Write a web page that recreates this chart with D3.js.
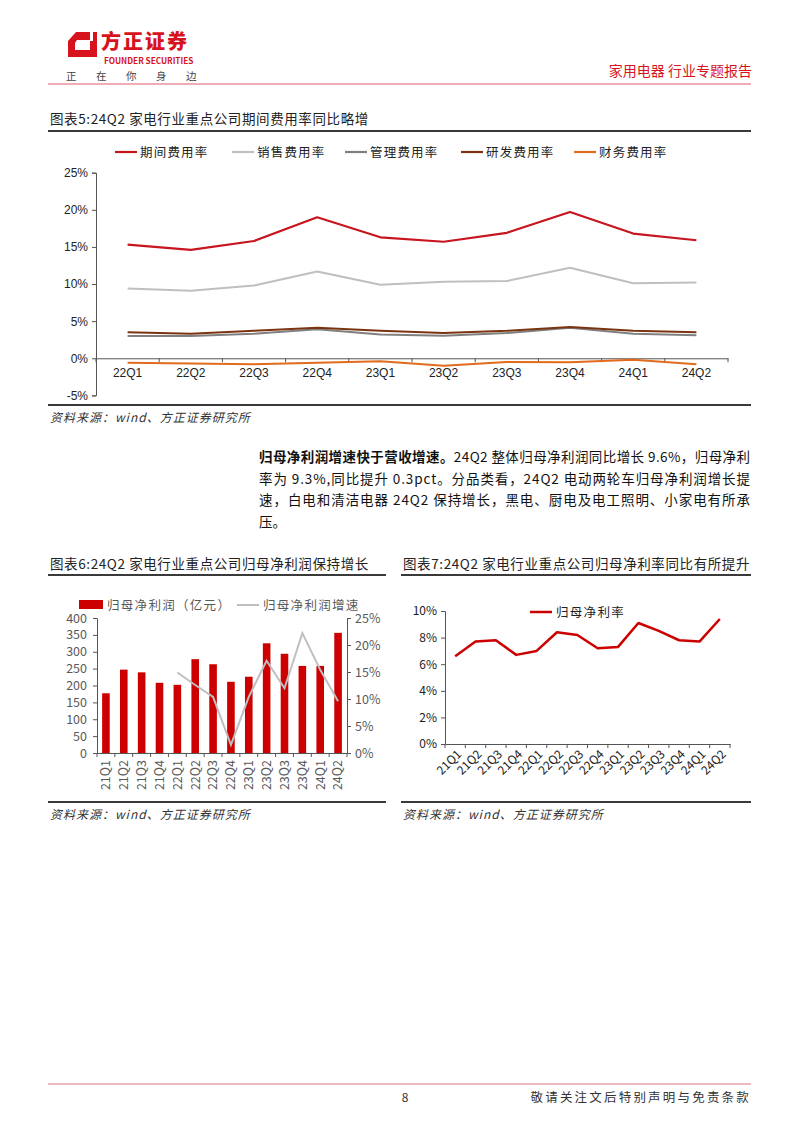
<!DOCTYPE html>
<html>
<head>
<meta charset="utf-8">
<script src="https://cdn.jsdelivr.net/npm/d3@7"></script>
<style>
body { margin: 0; background: #fff; }
svg { display: block; }
text { font-family: "Noto Sans CJK SC", "Noto Sans", sans-serif; }
.num { font-family: "Liberation Sans Narrow", "Liberation Sans", Arial, sans-serif; }
</style>
</head>
<body>
<div id="page"></div>
<script>
// Data
var q5 = ["22Q1","22Q2","22Q3","22Q4","23Q1","23Q2","23Q3","23Q4","24Q1","24Q2"];
var periodRate = [15.3, 14.6, 15.8, 19.0, 16.3, 15.7, 16.9, 19.7, 16.8, 15.9];
var salesRate  = [9.4, 9.1, 9.8, 11.7, 9.9, 10.3, 10.4, 12.2, 10.1, 10.2];
var adminRate  = [3.0, 3.0, 3.3, 3.9, 3.2, 3.05, 3.4, 4.1, 3.3, 3.1];
var rdRate     = [3.5, 3.3, 3.7, 4.1, 3.7, 3.4, 3.7, 4.2, 3.7, 3.5];
var finRate    = [-0.6, -0.7, -0.8, -0.6, -0.4, -1.0, -0.5, -0.55, -0.2, -0.8];
var seriesNames5 = ["期间费用率","销售费用率","管理费用率","研发费用率","财务费用率"];
var yTicks5 = [-5, 0, 5, 10, 15, 20, 25];

var q14 = ["21Q1","21Q2","21Q3","21Q4","22Q1","22Q2","22Q3","22Q4","23Q1","23Q2","23Q3","23Q4","24Q1","24Q2"];
var netProfit = [177, 247, 239, 208, 202, 278, 263, 211, 226, 325, 294, 258, 258, 356];
var profitGrowth = [null, null, null, null, 14.9, 12.6, 10.4, 1.5, 10.4, 17.1, 12.0, 22.2, 15.4, 9.6];
var netMargin = [6.6, 7.7, 7.8, 6.7, 7.0, 8.4, 8.2, 7.2, 7.3, 9.1, 8.5, 7.8, 7.7, 9.4];

var paragraph = [
  ["归母净利润增速快于营收增速。", "24Q2 整体归母净利润同比增长 9.6%，归母净利"],
  ["", "率为 9.3%,同比提升 0.3pct。分品类看，24Q2 电动两轮车归母净利润增长提"],
  ["", "速，白电和清洁电器 24Q2 保持增长，黑电、厨电及电工照明、小家电有所承"],
  ["", "压。"]
];

var W = 802, H = 1133;
var svg = d3.select("#page").append("svg").attr("width", W).attr("height", H);
svg.append("rect").attr("width", W).attr("height", H).attr("fill", "#fff");

// ---------- header ----------
var logo = svg.append("g");
logo.append("path").attr("d", "M76,32 L97,32 L97,57 L68,57 L68,41 Z").attr("fill", "#D7141D");
logo.append("path").attr("d", "M77,40 L90,40 L90,50 L75,50 L75,43 Z").attr("fill", "#fff");
logo.append("rect").attr("x", 90).attr("y", 32).attr("width", 3).attr("height", 9).attr("fill", "#fff");
logo.append("text").attr("x", 101).attr("y", 49).attr("font-size", 20).attr("font-weight", 900)
  .attr("letter-spacing", 2).attr("fill", "#D7141D").text("方正证券");
logo.append("text").attr("x", 104).attr("y", 64).attr("font-size", 8.2).attr("font-weight", 700)
  .attr("fill", "#D7141D").attr("font-family", "Liberation Sans, sans-serif").text("FOUNDER SECURITIES");
["正","在","你","身","边"].forEach(function (c, i) {
  logo.append("text").attr("x", 66 + i * 30).attr("y", 80).attr("font-size", 10.5).attr("fill", "#444").text(c);
});
svg.append("text").attr("x", 752).attr("y", 76).attr("text-anchor", "end").attr("font-size", 14)
  .attr("fill", "#D7141D").text("家用电器 行业专题报告");
svg.append("line").attr("x1", 48).attr("x2", 751).attr("y1", 84).attr("y2", 84)
  .attr("stroke", "#E05A6A").attr("stroke-width", 1.2);

// helpers
function titleBlock(x1, x2, yTitle, yRule, txt) {
  svg.append("text").attr("x", x1 + 2).attr("y", yTitle).attr("font-size", 13.5).attr("fill", "#222")
    .attr("letter-spacing", 0.6).text(txt);
  svg.append("line").attr("x1", x1).attr("x2", x2).attr("y1", yRule).attr("y2", yRule)
    .attr("stroke", "#3a3a3a").attr("stroke-width", 2);
}
function sourceBlock(x1, x2, yRule, ySrc) {
  svg.append("line").attr("x1", x1).attr("x2", x2).attr("y1", yRule).attr("y2", yRule)
    .attr("stroke", "#3a3a3a").attr("stroke-width", 2);
  svg.append("text").attr("x", x1 + 2).attr("y", ySrc).attr("font-size", 12).attr("font-style", "italic")
    .attr("fill", "#333").attr("letter-spacing", 1).text("资料来源：wind、方正证券研究所");
}

// ---------- chart 5 ----------
titleBlock(48, 751, 124, 131, "图表5:24Q2 家电行业重点公司期间费用率同比略增");
var x5 = d3.scaleBand().domain(q5).range([96, 728]);
var y5 = d3.scaleLinear().domain([-5, 25]).range([395.4, 172.7]);
var g5 = svg.append("g");

g5.append("g").attr("transform", "translate(96,0)")
  .call(d3.axisLeft(y5).tickValues(yTicks5).tickSize(4).tickFormat(function (d) { return d + "%"; }))
  .call(function (g) {
    g.select(".domain").attr("stroke", "#555");
    g.selectAll(".tick line").attr("stroke", "#555");
    g.selectAll("text").attr("class", "num").attr("font-size", 12).attr("fill", "#222").attr("x", -8);
  });
g5.append("g").attr("transform", "translate(0," + y5(0) + ")")
  .call(d3.axisBottom(x5).tickSize(0).tickSizeOuter(0))
  .call(function (g) {
    g.select(".domain").attr("stroke", "#555");
    g.selectAll("text").attr("class", "num").attr("font-size", 12).attr("fill", "#222").attr("dy", "0.85em").attr("y", 9);
  });
g5.selectAll("line.xt").data(q5.concat(["end"])).enter().append("line").attr("class", "xt")
  .attr("x1", function (d) { return d === "end" ? 728 : x5(d); })
  .attr("x2", function (d) { return d === "end" ? 728 : x5(d); })
  .attr("y1", y5(0)).attr("y2", y5(0) + 4).attr("stroke", "#555");

var series5 = [
  { name: seriesNames5[0], values: periodRate, color: "#C8141E", w: 2.2 },
  { name: seriesNames5[1], values: salesRate, color: "#BFBFBF", w: 2 },
  { name: seriesNames5[2], values: adminRate, color: "#7F7F7F", w: 2 },
  { name: seriesNames5[3], values: rdRate, color: "#7A3510", w: 2 },
  { name: seriesNames5[4], values: finRate, color: "#E26B1E", w: 2 }
];
var line5 = d3.line().x(function (d, i) { return x5(q5[i]) + x5.bandwidth() / 2; }).y(function (d) { return y5(d); });
[1, 2, 3, 4, 0].forEach(function (k) {
  var s = series5[k];
  g5.append("path").datum(s.values).attr("d", line5).attr("fill", "none")
    .attr("stroke", s.color).attr("stroke-width", s.w).attr("stroke-linejoin", "round");
});
var legX5 = [115, 232, 345, 461, 574];
series5.forEach(function (s, i) {
  g5.append("line").attr("x1", legX5[i]).attr("x2", legX5[i] + 22).attr("y1", 152).attr("y2", 152)
    .attr("stroke", s.color).attr("stroke-width", 2.2);
  g5.append("text").attr("x", legX5[i] + 25).attr("y", 156.5).attr("font-size", 12.5)
    .attr("letter-spacing", 1.2).attr("fill", "#222").text(s.name);
});
sourceBlock(48, 751, 405, 422);

// ---------- paragraph ----------
paragraph.forEach(function (ln, i) {
  var t = svg.append("text").attr("x", 259).attr("y", 462 + i * 21.7).attr("font-size", 13.5).attr("fill", "#111");
  if (i < 3) t.attr("textLength", 491).attr("lengthAdjust", "spacing");
  if (ln[0]) t.append("tspan").attr("font-weight", 700).text(ln[0]);
  t.append("tspan").text(ln[1]);
});

// ---------- chart 6 ----------
titleBlock(48, 386, 569, 575, "图表6:24Q2 家电行业重点公司归母净利润保持增长");
var x6 = d3.scaleBand().domain(q14).range([97, 347]);
var y6 = d3.scaleLinear().domain([0, 400]).range([753, 618]);
var y6r = d3.scaleLinear().domain([0, 25]).range([753, 618]);
var g6 = svg.append("g");

g6.selectAll("rect.bar").data(netProfit).enter().append("rect").attr("class", "bar")
  .attr("x", function (d, i) { return x6(q14[i]) + x6.bandwidth() / 2 - 3.8; })
  .attr("width", 7.6)
  .attr("y", function (d) { return y6(d); })
  .attr("height", function (d) { return y6(0) - y6(d); })
  .attr("fill", "#CC0000");

var line6 = d3.line().defined(function (d) { return d !== null; })
  .x(function (d, i) { return x6(q14[i]) + x6.bandwidth() / 2; }).y(function (d) { return y6r(d); });
g6.append("path").datum(profitGrowth).attr("d", line6).attr("fill", "none")
  .attr("stroke", "#BFBFBF").attr("stroke-width", 2);

g6.append("g").attr("transform", "translate(97,0)")
  .call(d3.axisLeft(y6).ticks(8).tickSize(4))
  .call(function (g) {
    g.select(".domain").attr("stroke", "#555");
    g.selectAll(".tick line").attr("stroke", "#555");
    g.selectAll("text").attr("font-family", "Liberation Sans, Arial, sans-serif").attr("font-size", 12.5)
      .attr("fill", "#595959").attr("x", -10);
  });
g6.append("g").attr("transform", "translate(347,0)")
  .call(d3.axisRight(y6r).ticks(5).tickSize(4).tickFormat(function (d) { return d + "%"; }))
  .call(function (g) {
    g.select(".domain").attr("stroke", "#555");
    g.selectAll(".tick line").attr("stroke", "#555");
    g.selectAll("text").attr("font-family", "Liberation Sans, Arial, sans-serif").attr("font-size", 12.5)
      .attr("fill", "#595959").attr("x", 8);
  });
g6.append("g").attr("transform", "translate(0,753)")
  .call(d3.axisBottom(x6).tickSize(0).tickSizeOuter(0))
  .call(function (g) {
    g.select(".domain").attr("stroke", "#555");
    g.selectAll("text").attr("font-family", "Liberation Sans, Arial, sans-serif").attr("font-size", 12.5)
      .attr("fill", "#595959").attr("text-anchor", "end")
      .attr("transform", "rotate(-90)").attr("x", -7).attr("y", 0).attr("dy", "0.35em");
  });
g6.selectAll("line.xt").data(q14.concat(["end"])).enter().append("line").attr("class", "xt")
  .attr("x1", function (d) { return d === "end" ? 347 : x6(d); })
  .attr("x2", function (d) { return d === "end" ? 347 : x6(d); })
  .attr("y1", 753).attr("y2", 757).attr("stroke", "#555");

g6.append("rect").attr("x", 79).attr("y", 600).attr("width", 24).attr("height", 9).attr("fill", "#CC0000");
g6.append("text").attr("x", 107).attr("y", 609.5).attr("font-size", 12.5).attr("letter-spacing", 1.3)
  .attr("fill", "#595959").text("归母净利润（亿元）");
g6.append("line").attr("x1", 237).attr("x2", 259).attr("y1", 605).attr("y2", 605)
  .attr("stroke", "#BFBFBF").attr("stroke-width", 2);
g6.append("text").attr("x", 263).attr("y", 609.5).attr("font-size", 12.5).attr("letter-spacing", 1.3)
  .attr("fill", "#595959").text("归母净利润增速");
sourceBlock(48, 386, 802, 819);

// ---------- chart 7 ----------
titleBlock(401, 751, 569, 575, "图表7:24Q2 家电行业重点公司归母净利率同比有所提升");
var x7 = d3.scaleBand().domain(q14).range([445, 730]);
var y7 = d3.scaleLinear().domain([0, 10]).range([744, 611]);
var g7 = svg.append("g");

g7.append("g").attr("transform", "translate(445,0)")
  .call(d3.axisLeft(y7).ticks(5).tickSize(4).tickFormat(function (d) { return d + "%"; }))
  .call(function (g) {
    g.select(".domain").attr("stroke", "#555");
    g.selectAll(".tick line").attr("stroke", "#555");
    g.selectAll("text").attr("font-family", "Liberation Sans, Arial, sans-serif").attr("font-size", 12)
      .attr("fill", "#222").attr("x", -8);
  });
g7.append("g").attr("transform", "translate(0,744)")
  .call(d3.axisBottom(x7).tickSize(0).tickSizeOuter(0))
  .call(function (g) {
    g.select(".domain").attr("stroke", "#555");
    g.selectAll("text").attr("font-family", "Liberation Sans, Arial, sans-serif").attr("font-size", 12)
      .attr("fill", "#222").attr("text-anchor", "end")
      .attr("transform", "translate(4,8) rotate(-45)").attr("y", 0).attr("dy", "0.35em");
  });
g7.selectAll("line.xt").data(q14.concat(["end"])).enter().append("line").attr("class", "xt")
  .attr("x1", function (d) { return d === "end" ? 730 : x7(d); })
  .attr("x2", function (d) { return d === "end" ? 730 : x7(d); })
  .attr("y1", 744).attr("y2", 748).attr("stroke", "#555");

var line7 = d3.line().x(function (d, i) { return x7(q14[i]) + x7.bandwidth() / 2; }).y(function (d) { return y7(d); });
g7.append("path").datum(netMargin).attr("d", line7).attr("fill", "none")
  .attr("stroke", "#CC0000").attr("stroke-width", 2.5).attr("stroke-linejoin", "round");
g7.append("line").attr("x1", 530).attr("x2", 552).attr("y1", 612).attr("y2", 612)
  .attr("stroke", "#CC0000").attr("stroke-width", 2.5);
g7.append("text").attr("x", 556).attr("y", 616.5).attr("font-size", 12.5).attr("letter-spacing", 1.3)
  .attr("fill", "#222").text("归母净利率");
sourceBlock(401, 751, 802, 819);

// ---------- footer ----------
svg.append("line").attr("x1", 48).attr("x2", 751).attr("y1", 1084).attr("y2", 1084)
  .attr("stroke", "#E07080").attr("stroke-width", 1.2);
svg.append("text").attr("x", 405).attr("y", 1102).attr("text-anchor", "middle").attr("font-size", 12)
  .attr("fill", "#333").text("8");
svg.append("text").attr("x", 751).attr("y", 1102).attr("text-anchor", "end").attr("font-size", 12.5)
  .attr("letter-spacing", 2.2).attr("fill", "#333").text("敬请关注文后特别声明与免责条款");
</script>
</body>
</html>
